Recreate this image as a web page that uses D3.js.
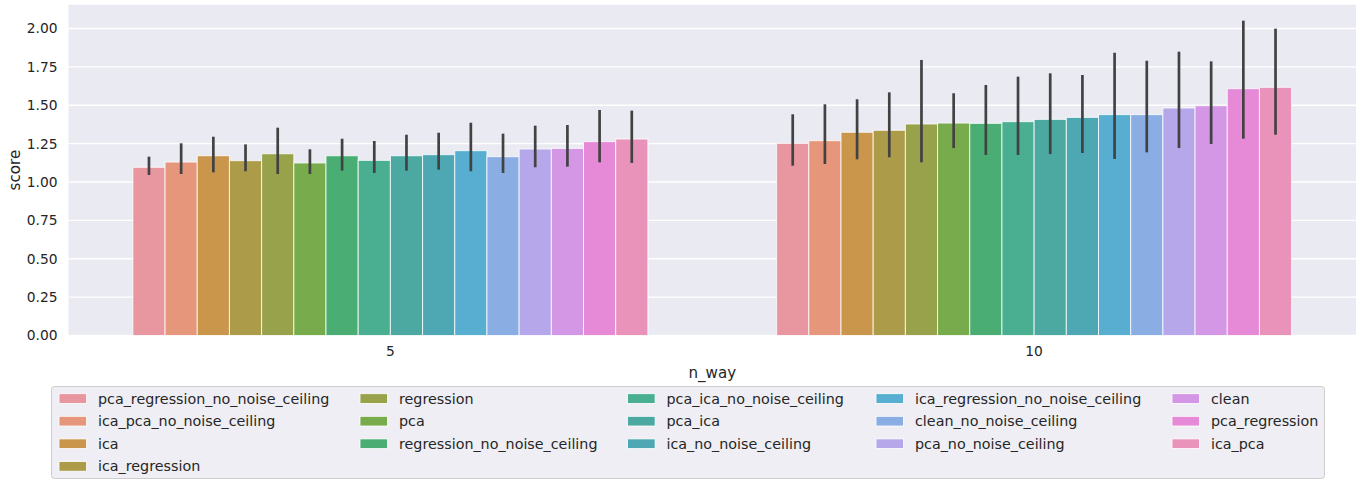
<!DOCTYPE html>
<html>
<head>
<meta charset="utf-8">
<script src="https://cdn.jsdelivr.net/npm/d3@7"></script>
<style>
  html, body { margin: 0; padding: 0; background: #ffffff; }
  svg { display: block; }
  text { font-family: "DejaVu Sans", sans-serif; fill: #262626; }
</style>
</head>
<body>
<svg id="chart" width="1367" height="481"></svg>
<script>
// ---- data ----
const categories = ["5", "10"];
const seriesNames = [
  "pca_regression_no_noise_ceiling", "ica_pca_no_noise_ceiling", "ica", "ica_regression",
  "regression", "pca", "regression_no_noise_ceiling", "pca_ica_no_noise_ceiling",
  "pca_ica", "ica_no_noise_ceiling", "ica_regression_no_noise_ceiling", "clean_no_noise_ceiling",
  "pca_no_noise_ceiling", "clean", "pca_regression", "ica_pca"
];
const values5  = [1.096, 1.130, 1.171, 1.139, 1.184, 1.124, 1.171, 1.141, 1.171, 1.178, 1.204, 1.165, 1.215, 1.219, 1.263, 1.280];
const ciLow5   = [1.046, 1.052, 1.063, 1.070, 1.052, 1.052, 1.074, 1.059, 1.074, 1.080, 1.070, 1.059, 1.096, 1.100, 1.128, 1.124];
const ciHigh5  = [1.165, 1.252, 1.295, 1.245, 1.354, 1.213, 1.282, 1.267, 1.308, 1.321, 1.386, 1.315, 1.367, 1.371, 1.469, 1.465];
const values10 = [1.252, 1.269, 1.324, 1.337, 1.378, 1.384, 1.382, 1.393, 1.408, 1.421, 1.439, 1.439, 1.482, 1.497, 1.608, 1.617];
const ciLow10  = [1.106, 1.117, 1.148, 1.161, 1.128, 1.221, 1.176, 1.176, 1.182, 1.189, 1.150, 1.193, 1.221, 1.248, 1.282, 1.308];
const ciHigh10 = [1.441, 1.506, 1.539, 1.584, 1.795, 1.578, 1.632, 1.686, 1.708, 1.697, 1.842, 1.790, 1.849, 1.786, 2.051, 1.999];
const yTicks = [0, 0.25, 0.5, 0.75, 1.0, 1.25, 1.5, 1.75, 2.0];
const colors = [
  "#e8969f", "#e6967a", "#c9964c", "#ac9c4a", "#98a24a", "#77ab4b", "#4aae74", "#4aae91",
  "#4ba9a2", "#4ea8b3", "#57aed0", "#8aaee4", "#b6a7ea", "#d497e6", "#e68ad8", "#e993bb"
];
const xLabel = "n_way";
const yLabel = "score";

// ---- build rows ----
const valuesByCat = { "5": values5, "10": values10 };
const lowByCat = { "5": ciLow5, "10": ciLow10 };
const highByCat = { "5": ciHigh5, "10": ciHigh10 };
const rows = [];
categories.forEach(c => seriesNames.forEach((s, i) => {
  rows.push({ cat: c, series: s, value: valuesByCat[c][i], lo: lowByCat[c][i], hi: highByCat[c][i] });
}));

// ---- layout ----
const svg = d3.select("#chart");
const plot = { left: 68.5, right: 1356, top: 4.7, bottom: 335.5 };

const x = d3.scaleBand().domain(categories).range([plot.left, plot.right])
  .paddingInner(0.2).paddingOuter(0.1);
const xs = d3.scaleBand().domain(seriesNames).range([0, x.bandwidth()]).padding(0);
const y = d3.scaleLinear().domain([0, 2.155]).range([plot.bottom, plot.top]);
const color = d3.scaleOrdinal().domain(seriesNames).range(colors);

// background
svg.append("rect")
  .attr("x", plot.left).attr("y", plot.top)
  .attr("width", plot.right - plot.left).attr("height", plot.bottom - plot.top)
  .attr("fill", "#eaeaf2");

// grid
svg.append("g").selectAll("line").data(yTicks).join("line")
  .attr("x1", plot.left).attr("x2", plot.right)
  .attr("y1", d => y(d)).attr("y2", d => y(d))
  .attr("stroke", "#ffffff").attr("stroke-width", 1.3);

// bars
svg.append("g").selectAll("rect").data(rows).join("rect")
  .attr("x", d => x(d.cat) + xs(d.series))
  .attr("y", d => y(d.value))
  .attr("width", xs.bandwidth())
  .attr("height", d => y(0) - y(d.value))
  .attr("fill", d => color(d.series))
  .attr("stroke", "#ffffff").attr("stroke-width", 1).attr("stroke-opacity", 0.8);

// error bars
svg.append("g").selectAll("line").data(rows).join("line")
  .attr("x1", d => x(d.cat) + xs(d.series) + xs.bandwidth() / 2)
  .attr("x2", d => x(d.cat) + xs(d.series) + xs.bandwidth() / 2)
  .attr("y1", d => y(d.lo)).attr("y2", d => y(d.hi))
  .attr("stroke", "#424242").attr("stroke-width", 2.7);

// axes
const yAxis = svg.append("g").attr("transform", `translate(${plot.left},0)`)
  .call(d3.axisLeft(y).tickValues(yTicks).tickFormat(d3.format(".2f")).tickSize(0).tickPadding(11));
yAxis.select(".domain").remove();
yAxis.selectAll("text").style("font-size", "13.8px").attr("fill", "#262626");

const xAxis = svg.append("g").attr("transform", `translate(0,${plot.bottom})`)
  .call(d3.axisBottom(x).tickSize(0).tickPadding(11));
xAxis.select(".domain").remove();
xAxis.selectAll("text").style("font-size", "13.8px").attr("fill", "#262626");

// axis labels
svg.append("text")
  .attr("x", (plot.left + plot.right) / 2).attr("y", 378)
  .attr("text-anchor", "middle").style("font-size", "15.1px").text(xLabel);
svg.append("text")
  .attr("transform", `translate(20,${(plot.top + plot.bottom) / 2}) rotate(-90)`)
  .attr("text-anchor", "middle").style("font-size", "15.1px").text(yLabel);

// legend
const legend = svg.append("g");
legend.append("rect")
  .attr("x", 51.5).attr("y", 386.5).attr("width", 1273).attr("height", 92)
  .attr("rx", 3).attr("fill", "#eeeef4").attr("stroke", "#cccccc").attr("stroke-width", 1);

const colSizes = [4, 3, 3, 3, 3];
const colX = [59, 360, 627.5, 876, 1172];
const rowY0 = 398.5, rowStep = 22.6;
const items = [];
let k = 0;
colSizes.forEach((n, ci) => {
  for (let r = 0; r < n; r++) { items.push({ name: seriesNames[k], col: ci, row: r }); k++; }
});
const li = legend.selectAll("g.item").data(items).join("g")
  .attr("class", "item")
  .attr("transform", d => `translate(${colX[d.col]},${rowY0 + d.row * rowStep})`);
li.append("rect")
  .attr("x", 0).attr("y", -4.8).attr("width", 27.6).attr("height", 9.7)
  .attr("fill", d => color(d.name)).attr("stroke", "#ffffff").attr("stroke-width", 0.8);
li.append("text")
  .attr("x", 39).attr("y", 0).attr("dy", "0.35em")
  .style("font-size", "14.3px").text(d => d.name);
</script>
</body>
</html>
